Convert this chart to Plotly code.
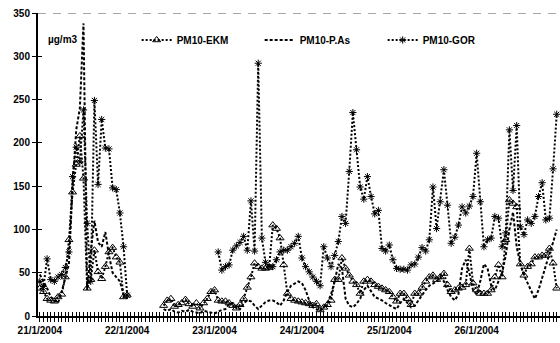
import plotly.graph_objects as go

# Hourly PM10 concentrations (µg/m3), 21/1/2004 00:00 onwards; None = no measurement
hours = list(range(143))
day_ticks = [0, 24, 48, 72, 96, 120]
day_labels = ["21/1/2004", "22/1/2004", "23/1/2004", "24/1/2004", "25/1/2004", "26/1/2004"]
y_ticks = [0, 50, 100, 150, 200, 250, 300, 350]
limit_value = 350

ekm_day1 = [32, 28, 20, 18, 17, 22, 25, 45, 88, 143, 175, 208, 159, 32, 42, 76, 51, 43,
            57, 74, 79, 68, 62, 22, 24]
ekm_day2_3 = [12, 18, 20, 11, 13, 15, 19, 14, 11, 15, 9, 15, 20, 28, 30, 18, 17, 17, 15,
              12, 9, 13, 20, 33, 45, 61, 57, 55, 55, 56, 105, 101, 90, 59, 26]
ekm_day4_5 = [20, 18, 17, 16, 15, 14, 12, 14, 7, 10, 13, 18, 42, 42, 67, 55, 47, 40, 36,
              26, 40, 42, 40, 36, 34, 32, 30, 28, 22, 17, 26, 26, 20, 13, 26, 26, 33, 40,
              45, 47, 42]
ekm_day5_6 = [45, 49, 36, 28, 30, 32, 33, 36, 78, 38, 30, 26, 26, 26, 30, 45, 59, 45, 88,
              134, 130, 126, 60, 47, 57, 60, 68, 68, 70, 70, 78, 61, 32]

pas_day1 = [48, 40, 32, 22, 18, 15, 28, 45, 60, 150, 215, 240, 338, 30, 75, 110, 85, 80,
            97, 70, 50, 45, 40, 25, 20]
pas_day2_3 = [8, 6, 8, 5, 4, 6, 5, 7, 5, 4, 3, 6, 5, 4, 3, 5, 7, 8, 14, 15, 10, 8, 15, 18,
              17, 12, 8, 12, 16, 18, 18, 16, 12, 18, 28]
pas_day4_5 = [35, 38, 40, 38, 30, 18, 10, 8, 6, 10, 15, 25, 40, 60, 55, 20, 12, 10, 14, 20,
              30, 35, 28, 22, 20, 18, 15, 12, 10, 8, 15, 20, 15, 10, 12, 18, 25, 30, 35,
              38, 40]
pas_day5_6 = [45, 40, 30, 22, 18, 25, 55, 65, 50, 30, 25, 40, 60, 55, 35, 30, 40, 50, 70,
              100, 120, 80, 60, 47, 38, 28, 20, 30, 45, 60, 72, 85, 100]

gor_day1 = [40, 34, 66, 42, 40, 45, 48, 56, 74, 161, 195, 178, 238, 107, 40, 249, 152, 227,
            194, 193, 148, 146, 119, 80, 24]
gor_day3_6 = [74, 53, 57, 59, 76, 81, 85, 92, 76, 133, 75, 292, 90, 62, 57, 57, 65, 74, 76,
              76, 80, 84, 92, 67, 57, 51, 45, 40, 35, 80, 67, 57, 70, 86, 115, 107, 167,
              235, 192, 149, 135, 161, 138, 118, 122, 78, 75, 82, 65, 55, 54, 54, 53, 59,
              60, 68, 79, 75, 88, 149, 101, 132, 169, 128, 84, 91, 105, 126, 119, 127, 138,
              188, 132, 80, 88, 90, 115, 113, 80, 96, 215, 145, 220, 103, 94, 111, 107, 115,
              138, 154, 111, 113, 170, 233]

pm10_ekm = ekm_day1 + [None] * 9 + ekm_day2_3 + ekm_day4_5 + ekm_day5_6
pm10_pas = pas_day1 + [None] * 9 + pas_day2_3 + pas_day4_5 + pas_day5_6
pm10_gor = gor_day1 + [None] * 24 + gor_day3_6

FONT = "Liberation Sans, Arial, sans-serif"

fig = go.Figure()
fig.add_trace(go.Scatter(
    x=hours, y=pm10_ekm, name="PM10-EKM", mode="lines+markers",
    line=dict(color="black", width=2, dash="2px,2px"),
    marker=dict(symbol="triangle-up-open", size=7, color="black", line=dict(width=1)),
))
fig.add_trace(go.Scatter(
    x=hours, y=pm10_pas, name="PM10-P.As", mode="lines",
    line=dict(color="black", width=2, dash="3px,2px"),
))
fig.add_trace(go.Scatter(
    x=hours, y=pm10_gor, name="PM10-GOR", mode="lines+markers",
    line=dict(color="black", width=2, dash="2px,2px"),
    marker=dict(symbol="asterisk-open", size=6, color="black", line=dict(width=1, color="black")),
))
# empty trace that carries the inner half of the crossing tick marks
fig.add_trace(go.Scatter(x=[None], y=[None], xaxis="x2", yaxis="y2",
                         showlegend=False, hoverinfo="skip"))

hour_text = [day_labels[day_ticks.index(h)] if h in day_ticks else "" for h in hours]

fig.add_shape(type="line", xref="paper", x0=0, x1=1, yref="y", y0=limit_value, y1=limit_value,
              line=dict(color="#8c8c8c", width=1.5, dash="8px,7px"), layer="below")

fig.add_annotation(text="µg/m3", xref="paper", yref="paper", x=0.015, y=0.911,
                   xanchor="left", yanchor="middle", showarrow=False,
                   font=dict(family=FONT, size=10, color="black", weight="bold"))

axis_common = dict(showgrid=False, zeroline=False, tickcolor="black", tickwidth=1, ticklen=4)
fig.update_layout(
    width=560, height=343,
    margin=dict(l=38, r=0, t=13, b=27),
    paper_bgcolor="white", plot_bgcolor="white",
    font=dict(family=FONT, size=10, color="black"),
    showlegend=True,
    legend=dict(orientation="h", x=0.189, y=0.911, xanchor="left", yanchor="middle",
                entrywidth=78, entrywidthmode="pixels", bgcolor="rgba(0,0,0,0)",
                font=dict(family=FONT, size=10, color="black", weight="bold")),
    xaxis=dict(range=[-0.5, 142.9], tickmode="array", tickvals=hours, ticktext=hour_text,
               ticks="outside", showline=True, linecolor="black", linewidth=2,
               tickfont=dict(family=FONT, size=10, color="black", weight="bold"),
               tickangle=0, **axis_common),
    yaxis=dict(range=[0, 350], tickmode="array", tickvals=y_ticks, ticks="outside",
               showline=True, linecolor="black", linewidth=2,
               tickfont=dict(family=FONT, size=10, color="black", weight="bold"),
               **axis_common),
    xaxis2=dict(overlaying="x", matches="x", anchor="y2", side="bottom", tickmode="array",
                tickvals=hours, ticks="inside", showticklabels=False, showline=False,
                **axis_common),
    yaxis2=dict(overlaying="y", matches="y", anchor="x2", side="left", tickmode="array",
                tickvals=y_ticks, ticks="inside", showticklabels=False, showline=False,
                **axis_common),
)

fig.write_html("out.html")
